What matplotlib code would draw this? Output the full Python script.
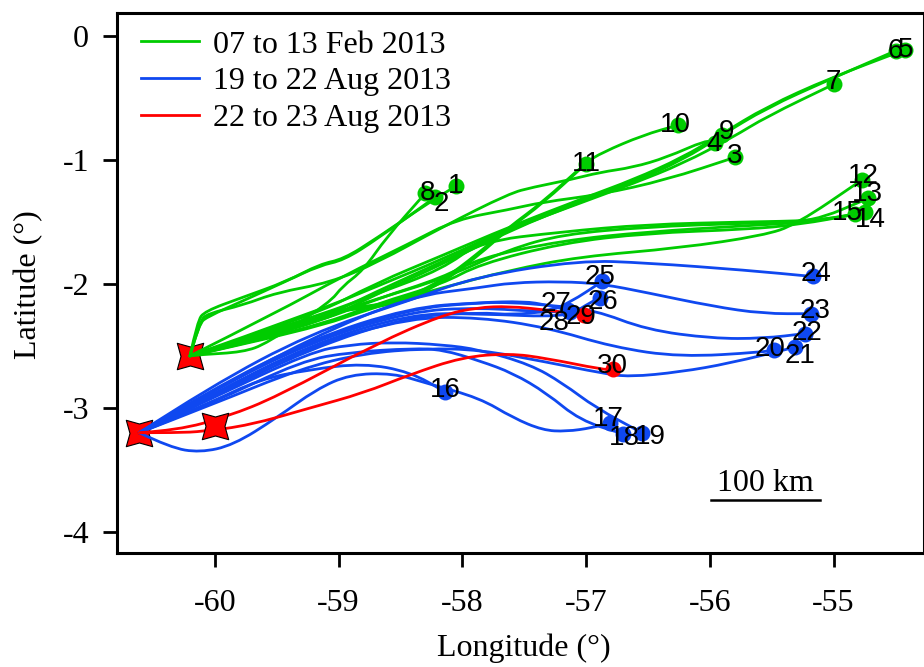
import matplotlib
matplotlib.use("Agg")
import matplotlib.pyplot as plt
from matplotlib.path import Path
from matplotlib.patches import PathPatch
from matplotlib.lines import Line2D

plt.rcParams['font.family'] = ['Liberation Serif', 'DejaVu Serif']
plt.rcParams['axes.unicode_minus'] = False

GREEN = '#00CC00'
BLUE = '#0F48F0'
RED = '#FF0000'

source_lonlat = [(-60.20, -2.58), (-60.61, -3.20), (-60.00, -3.145)]
S1 = (-60.20, -2.58)
S2 = (-60.61, -3.20)

track_1 = [S1, (-60.14, -2.30), (-60.08, -2.22), (-59.78, -2.11), (-59.42, -1.98), (-59.15, -1.84), (-58.96, -1.80), (-58.69, -1.63), (-58.28, -1.35), (-58.05, -1.21)]
track_2 = [S1, (-60.13, -2.32), (-60.05, -2.26), (-59.78, -2.14), (-59.45, -1.99), (-59.15, -1.85), (-58.96, -1.81), (-58.69, -1.64), (-58.22, -1.30)]
track_8 = [S1, (-60.12, -2.57), (-59.77, -2.55), (-59.58, -2.48), (-59.07, -2.15), (-58.97, -2.02), (-58.80, -1.89), (-58.61, -1.62), (-58.30, -1.27)]
track_4 = [S1, (-60.12, -2.30), (-60.06, -2.24), (-59.77, -2.17), (-59.50, -2.07), (-59.07, -1.99), (-58.69, -1.83), (-58.16, -1.54), (-57.62, -1.27), (-57.43, -1.22), (-57.13, -1.16), (-56.89, -1.10), (-56.62, -1.06), (-56.35, -0.98), (-56.03, -0.84), (-55.96, -0.86)]
track_3 = [S1, (-59.50, -2.23), (-58.97, -1.94), (-58.42, -1.67), (-58.05, -1.48), (-57.62, -1.40), (-57.35, -1.34), (-56.89, -1.28), (-56.35, -1.16), (-55.80, -0.98)]
track_5 = [S1, (-59.23, -2.27), (-58.69, -1.99), (-58.16, -1.77), (-57.62, -1.54), (-57.00, -1.30), (-56.62, -1.16), (-56.22, -0.98), (-55.92, -0.80), (-55.54, -0.57), (-55.03, -0.34), (-54.42, -0.11)]
track_6 = [S1, (-59.23, -2.24), (-58.69, -2.02), (-58.16, -1.80), (-57.62, -1.55), (-57.00, -1.31), (-56.62, -1.17), (-56.22, -0.99), (-55.92, -0.81), (-55.54, -0.58), (-55.03, -0.35), (-54.50, -0.12)]
track_7 = [S1, (-59.23, -2.32), (-58.69, -2.06), (-58.16, -1.82), (-57.62, -1.56), (-57.00, -1.33), (-56.62, -1.19), (-56.22, -1.03), (-55.82, -0.82), (-55.54, -0.65), (-55.00, -0.39)]
track_9 = [S1, (-59.23, -2.35), (-58.69, -2.08), (-58.16, -1.84), (-57.62, -1.57), (-57.00, -1.32), (-56.62, -1.18), (-56.22, -1.00), (-55.90, -0.80)]
track_10 = [S1, (-59.23, -2.30), (-58.97, -2.20), (-58.53, -2.15), (-58.16, -1.97), (-57.88, -1.76), (-57.62, -1.54), (-57.35, -1.34), (-57.00, -1.02), (-56.87, -0.94), (-56.54, -0.80), (-56.26, -0.72)]
track_11 = [S1, (-59.23, -2.30), (-58.97, -2.21), (-58.53, -2.17), (-58.16, -1.99), (-57.88, -1.78), (-57.62, -1.55), (-57.35, -1.35), (-57.00, -1.03)]
track_12 = [S1, (-59.23, -2.37), (-58.69, -2.18), (-58.16, -2.03), (-57.62, -1.89), (-57.05, -1.78), (-56.24, -1.71), (-55.57, -1.61), (-55.30, -1.52), (-54.77, -1.16)]
track_13 = [S1, (-59.23, -2.33), (-58.69, -2.12), (-58.16, -1.95), (-57.86, -1.79), (-57.19, -1.65), (-56.51, -1.58), (-55.70, -1.53), (-55.17, -1.50), (-54.72, -1.31)]
track_14 = [S1, (-59.23, -2.30), (-58.69, -2.12), (-58.16, -1.96), (-57.62, -1.72), (-57.19, -1.60), (-56.51, -1.54), (-55.70, -1.51), (-55.17, -1.50), (-54.75, -1.42)]
track_15 = [S1, (-59.23, -2.28), (-58.69, -2.08), (-58.16, -1.88), (-57.86, -1.66), (-57.20, -1.58), (-56.51, -1.52), (-55.70, -1.50), (-55.17, -1.49), (-54.83, -1.44)]
track_15b = [S1, (-59.23, -2.36), (-58.69, -2.16), (-58.16, -2.00), (-57.86, -1.84), (-57.19, -1.67), (-56.51, -1.59), (-55.70, -1.56), (-55.27, -1.52), (-54.83, -1.44)]

track_16 = [S2, (-60.04, -2.96), (-59.64, -2.77), (-59.23, -2.69), (-58.80, -2.64), (-58.42, -2.71), (-58.14, -2.87)]
track_17 = [S2, (-60.36, -3.32), (-60.12, -3.36), (-59.85, -3.30), (-59.50, -3.08), (-59.18, -2.85), (-58.91, -2.73), (-58.56, -2.72), (-58.29, -2.80), (-57.86, -2.92), (-57.59, -3.08), (-57.35, -3.18), (-57.16, -3.19), (-56.95, -3.16), (-56.81, -3.12)]
track_18 = [S2, (-60.04, -2.97), (-59.30, -2.62), (-58.90, -2.55), (-58.40, -2.52), (-58.16, -2.53), (-57.86, -2.62), (-57.59, -2.72), (-57.32, -2.88), (-57.05, -3.10), (-56.70, -3.21)]
track_19 = [S2, (-60.04, -2.93), (-59.23, -2.55), (-58.91, -2.49), (-58.56, -2.47), (-58.16, -2.49), (-57.86, -2.53), (-57.45, -2.65), (-57.19, -2.80), (-56.92, -3.00), (-56.55, -3.20)]
track_20 = [S2, (-60.04, -2.90), (-59.23, -2.50), (-58.42, -2.27), (-57.86, -2.27), (-57.32, -2.35), (-56.78, -2.51), (-56.24, -2.59), (-55.57, -2.55), (-55.48, -2.53)]
track_21 = [S2, (-60.04, -2.98), (-59.30, -2.68), (-58.80, -2.56), (-58.30, -2.52), (-57.86, -2.53), (-57.32, -2.63), (-56.87, -2.72), (-56.65, -2.75), (-56.24, -2.71), (-55.84, -2.64), (-55.31, -2.51)]
track_22 = [S2, (-60.04, -2.87), (-59.23, -2.46), (-58.42, -2.20), (-57.86, -2.15), (-57.59, -2.15), (-57.32, -2.17), (-56.93, -2.21), (-56.51, -2.37), (-55.98, -2.44), (-55.57, -2.44), (-55.23, -2.40)]
track_23 = [S2, (-60.04, -2.88), (-59.23, -2.44), (-58.42, -2.10), (-57.86, -2.03), (-57.60, -1.99), (-57.20, -1.98), (-56.87, -2.00), (-56.51, -2.07), (-55.98, -2.18), (-55.57, -2.24), (-55.18, -2.24)]
track_24 = [S2, (-60.04, -2.83), (-59.23, -2.40), (-58.42, -2.13), (-57.88, -1.94), (-57.05, -1.81), (-56.51, -1.83), (-55.70, -1.89), (-55.17, -1.94)]
track_25 = [S2, (-60.04, -2.87), (-59.23, -2.47), (-58.42, -2.22), (-57.86, -2.19), (-57.32, -2.23), (-57.13, -2.15), (-56.87, -1.98)]
track_26 = [S2, (-60.04, -2.90), (-59.23, -2.49), (-58.42, -2.24), (-57.86, -2.24), (-57.16, -2.27), (-57.00, -2.17), (-56.89, -2.11)]
track_27 = [S2, (-60.04, -2.86), (-59.23, -2.45), (-58.42, -2.19), (-57.86, -2.15), (-57.50, -2.14), (-57.32, -2.17), (-57.15, -2.21)]
track_28 = [S2, (-60.04, -2.92), (-59.23, -2.52), (-58.42, -2.26), (-57.86, -2.23), (-57.59, -2.25), (-57.32, -2.22), (-57.13, -2.23)]

track_29 = [S2, (-60.30, -3.18), (-59.90, -3.07), (-59.50, -2.91), (-58.69, -2.48), (-58.16, -2.25), (-57.88, -2.19), (-57.62, -2.18), (-57.32, -2.21), (-57.02, -2.25)]
track_30 = [S2, (-60.30, -3.20), (-60.10, -3.19), (-59.72, -3.14), (-59.23, -3.00), (-58.80, -2.88), (-58.42, -2.73), (-58.00, -2.59), (-57.62, -2.56), (-57.32, -2.60), (-56.87, -2.69), (-56.78, -2.69)]

green_tracks = {1: track_1, 2: track_2, 3: track_3, 4: track_4, 5: track_5, 6: track_6, 7: track_7, 8: track_8,
                9: track_9, 10: track_10, 11: track_11, 12: track_12, 13: track_13, 14: track_14, 15: track_15}
blue_tracks = {16: track_16, 17: track_17, 18: track_18, 19: track_19, 20: track_20, 21: track_21, 22: track_22,
               23: track_23, 24: track_24, 25: track_25, 26: track_26, 27: track_27, 28: track_28}
red_tracks = {29: track_29, 30: track_30}

legend_labels = ['07 to 13 Feb 2013', '19 to 22 Aug 2013', '22 to 23 Aug 2013']

# label nudges in pixels (right, down)
nudge = {1: (-1, 0), 2: (6, 7), 3: (0, -1), 4: (-1, 1), 5: (0, 0), 6: (0, 0), 7: (0, -2), 8: (2, 0), 9: (4, -3),
         10: (-2, 0), 11: (0, 0), 12: (1, -4), 13: (-1, -4), 14: (6, 8), 15: (-7, -1), 16: (0, -2), 17: (-1, -4),
         18: (1, 4), 19: (9, 4), 20: (-4, -1), 21: (5, 9), 22: (2, -1), 23: (4, -3), 24: (3, -2), 25: (-2, -4),
         26: (3, 4), 27: (-12, -6), 28: (-16, 11), 29: (-3, 2), 30: (-1, -3)}

W, H = 924, 667
LW = 2.0
fig = plt.figure(figsize=(W / 100, H / 100), dpi=100)
ax = fig.add_axes([117 / W, (H - 553) / H, (W - 117) / W, 540 / H])
ax.set_xlim(-60.79, -54.27)
ax.set_ylim(-4.17, 0.185)

star = Path([(-1, -1), (-0.72, 0), (-1, 1), (0, 0.72), (1, 1), (0.72, 0), (1, -1), (0, -0.72), (-1, -1)], closed=True)
ax.plot(*source_lonlat[0], marker=star, ms=19, mfc=RED, mec='black', mew=0.8, ls='none', zorder=1)
ax.plot(*source_lonlat[1], marker=star, ms=19, mfc=RED, mec='black', mew=0.8, ls='none', zorder=1)


def curve(pts, color):
    # quadratic Bezier path through the read-off points, drawn by matplotlib's Path
    verts = [pts[0]]
    codes = [Path.MOVETO]
    for a, b in zip(pts[1:-1], pts[2:]):
        verts += [a, ((a[0] + b[0]) / 2, (a[1] + b[1]) / 2)]
        codes += [Path.CURVE3, Path.CURVE3]
    verts.append(pts[-1])
    codes.append(Path.LINETO)
    ax.add_patch(PathPatch(Path(verts, codes), fc='none', ec=color, lw=LW, zorder=2, capstyle='round'))


def draw(tracks, color):
    for tid, pts in tracks.items():
        curve(pts, color)
        lon, lat = pts[-1]
        ax.plot(lon, lat, marker='o', ms=11.5, color=color, mew=0, ls='none', zorder=3)
        dx, dy = nudge[tid]
        ax.annotate(str(tid), (lon, lat), xytext=(dx * 0.72, -dy * 0.72), textcoords='offset points',
                    ha='center', va='center', fontsize=20, family=['Liberation Sans', 'DejaVu Sans'],
                    color='black', zorder=6)


draw(green_tracks, GREEN)
curve(track_15b, GREEN)
draw(blue_tracks, BLUE)
draw(red_tracks, RED)

ax.plot(*source_lonlat[2], marker=star, ms=19, mfc=RED, mec='black', mew=0.8, ls='none', zorder=4)

ax.plot([-55.99, -55.11], [-3.74, -3.74], color='black', lw=1.8, zorder=5)
ax.text(-55.55, -3.61, '100 km', ha='center', va='center', fontsize=23)

ax.set_xticks([-60, -59, -58, -57, -56, -55])
ax.set_yticks([0, -1, -2, -3, -4])
ax.tick_params(axis='both', direction='out', length=10, width=2, labelsize=23)
ax.tick_params(axis='x', pad=16)
ax.tick_params(axis='y', pad=10)
ax.set_xlabel('Longitude (°)', fontsize=23)
ax.xaxis.set_label_coords((524 - 117) / (W - 117), -(648 - 553) / 540)
ax.xaxis.label.set_va('center')
ax.set_ylabel('Latitude (°)', fontsize=23)
ax.yaxis.set_label_coords(-(117 - 29) / (W - 117), (553 - 285) / 540)
ax.yaxis.label.set_va('center')
for s in ax.spines.values():
    s.set_linewidth(2.2)

handles = [Line2D([], [], color=c, lw=LW) for c in (GREEN, BLUE, RED)]
ax.legend(handles, legend_labels, loc='upper left', bbox_to_anchor=(0.0297, 0.968), frameon=False, fontsize=23,
          handlelength=1.81, handletextpad=0.44, labelspacing=0.225, borderpad=0, borderaxespad=0)

fig.savefig('out.png', dpi=100)
